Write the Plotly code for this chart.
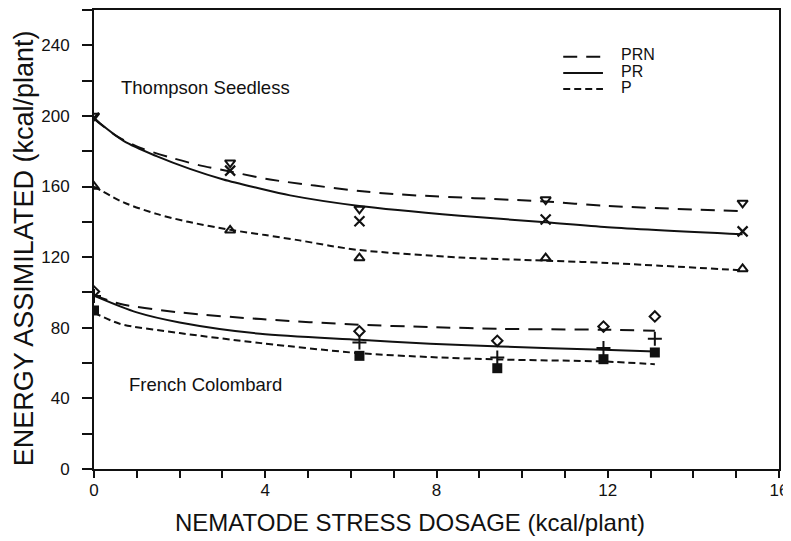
import plotly.graph_objects as go

# ---------------- data ----------------
# Thompson Seedless observed points
ts_x = [0, 3.18, 6.2, 10.55, 15.15]
ts_prn = [200, 173.5, 147.3, 152.6, 150.7]   # down-triangles
ts_pr = [199, 169, 140.3, 141.3, 134.6]      # x marks
ts_p = [160, 135.2, 119.5, 119.5, 113.3]     # up-triangles

# French Colombard observed points
fc_x = [0, 6.2, 9.42, 11.9, 13.1]
fc_prn = [100.5, 78, 72.6, 80.7, 86.4]       # diamonds
fc_pr = [98, 71.7, 63.2, 68.6, 73.8]         # plus
fc_p = [89.8, 64.1, 57.1, 62.2, 66]          # filled squares

# Fitted curves
ts_prn_cx = [0, 0.5, 1.07, 1.85, 2.47, 3.18, 4.11, 6.2, 7.15, 10.55, 12, 15.15]
ts_prn_cy = [198.5, 189, 182, 176, 172, 168.5, 164, 157.5, 155.5, 151.5, 149, 146]
ts_pr_cx = [0, 0.7, 1.46, 2.24, 3.02, 3.8, 4.58, 6.2, 8.55, 10.55, 12, 15.15]
ts_pr_cy = [198.5, 185.7, 177.2, 170, 164, 159.3, 155, 149, 143.5, 139.8, 137, 133]
ts_p_cx = [0, 0.69, 1.46, 2.2, 3.18, 4.0, 4.8, 5.5, 6.2, 8.55, 10.55, 12, 15.15]
ts_p_cy = [160, 151, 144.5, 140, 135.5, 132.5, 129.5, 126.5, 124, 119.8, 118, 116.7, 112.5]

fc_prn_cx = [0, 0.6, 2.0, 3.9, 6.2, 7.85, 9.5, 11.9, 13.1]
fc_prn_cy = [98.5, 93.6, 88.7, 84.9, 81.7, 80.4, 79.4, 78.9, 78.3]
fc_pr_cx = [0, 1.0, 2.0, 3.88, 6.2, 7.85, 9.5, 11.9, 13.1]
fc_pr_cy = [98.2, 88.7, 83, 76.6, 73.2, 70.9, 69.4, 67.5, 66.6]
fc_p_cx = [0, 0.6, 2.0, 3.9, 6.2, 7.85, 9.5, 11.9, 13.1]
fc_p_cy = [88.6, 82.3, 77, 71.3, 65.6, 63.4, 62, 60.9, 59.4]

legend_labels = ["PRN", "PR", "P"]
x_tickvals = [0, 4, 8, 12, 16]
y_tickvals = [0, 40, 80, 120, 160, 200, 240]

# ---------------- styles ----------------
FONT = "Liberation Sans, Arial, sans-serif"
BLACK = "#111111"
DASH_PRN = "14px,9px"
DASH_P = "7px,4px"
LW = 2

fig = go.Figure()

def curve(x, y, dash):
    fig.add_trace(go.Scatter(x=x, y=y, mode="lines", showlegend=False,
                             line=dict(color=BLACK, width=LW, dash=dash,
                                       shape="spline", smoothing=0.8),
                             hoverinfo="skip"))

def pts(x, y, symbol, size, lw=2):
    fig.add_trace(go.Scatter(x=x, y=y, mode="markers", showlegend=False,
                             marker=dict(symbol=symbol, size=size, color=BLACK,
                                         line=dict(color=BLACK, width=lw))))

curve(ts_prn_cx, ts_prn_cy, DASH_PRN)
curve(ts_pr_cx, ts_pr_cy, "solid")
curve(ts_p_cx, ts_p_cy, DASH_P)
curve(fc_prn_cx, fc_prn_cy, DASH_PRN)
curve(fc_pr_cx, fc_pr_cy, "solid")
curve(fc_p_cx, fc_p_cy, DASH_P)

pts(ts_x, ts_prn, "triangle-down-open", 9)
pts(ts_x, ts_pr, "x-thin-open", 10, 2.2)
pts(ts_x, ts_p, "triangle-up-open", 9)
pts(fc_x, fc_prn, "diamond-open", 8)
pts(fc_x, fc_pr, "cross-thin-open", 10)
pts(fc_x, fc_p, "square", 10, 0)

# legend (drawn manually to match the compact original)
leg_dash = [DASH_PRN, "solid", DASH_P]
leg_y = [0.898, 0.863, 0.828]
shapes = []
annotations = []
for lab, d, yy in zip(legend_labels, leg_dash, leg_y):
    shapes.append(dict(type="line", xref="paper", yref="paper",
                       x0=0.685, x1=0.743, y0=yy, y1=yy,
                       line=dict(color=BLACK, width=LW, dash=d)))
    annotations.append(dict(text=lab, xref="paper", yref="paper",
                            x=0.766, y=yy + 0.004, xanchor="left", yanchor="middle",
                            showarrow=False, font=dict(size=16, color=BLACK, family=FONT)))

annotations += [
    dict(text="Thompson Seedless", xref="paper", yref="paper", x=0.036, y=0.832,
         xanchor="left", yanchor="middle", showarrow=False,
         font=dict(size=18.5, color=BLACK, family=FONT)),
    dict(text="French Colombard", xref="paper", yref="paper", x=0.048, y=0.185,
         xanchor="left", yanchor="middle", showarrow=False,
         font=dict(size=18.5, color=BLACK, family=FONT)),
    dict(text="NEMATODE STRESS DOSAGE (kcal/plant)", xref="paper", yref="paper",
         x=0.4606, y=-0.1155, xanchor="center", yanchor="middle", showarrow=False,
         font=dict(size=24, color=BLACK, family=FONT)),
    dict(text="ENERGY ASSIMILATED (kcal/plant)", xref="paper", yref="paper",
         x=-0.103, y=0.482, xanchor="center", yanchor="middle", textangle=-90,
         showarrow=False, font=dict(size=27, color=BLACK, family=FONT)),
]

axis_common = dict(showline=True, linecolor=BLACK, linewidth=2, mirror=True,
                   showgrid=False, zeroline=False, ticks="outside",
                   tickcolor=BLACK, tickwidth=2, automargin=False,
                   tickfont=dict(size=17, color=BLACK, family=FONT))

# the page body adds an 8px margin, so the figure is sized/offset to compensate
fig.update_layout(
    width=783, height=533,
    margin=dict(l=86, r=12, t=2, b=72),
    paper_bgcolor="white", plot_bgcolor="white",
    showlegend=False,
    shapes=shapes, annotations=annotations,
    xaxis=dict(range=[0, 16], tickvals=x_tickvals, ticklen=7,
               minor=dict(dtick=1, ticklen=7, ticks="outside", tickcolor=BLACK, tickwidth=2),
               ticklabelstandoff=-2, **axis_common),
    yaxis=dict(range=[0, 260], tickvals=y_tickvals, ticklen=10,
               minor=dict(dtick=20, ticklen=10, ticks="outside", tickcolor=BLACK, tickwidth=2),
               ticklabelstandoff=9, **axis_common),
)

fig.write_html("out.html")
